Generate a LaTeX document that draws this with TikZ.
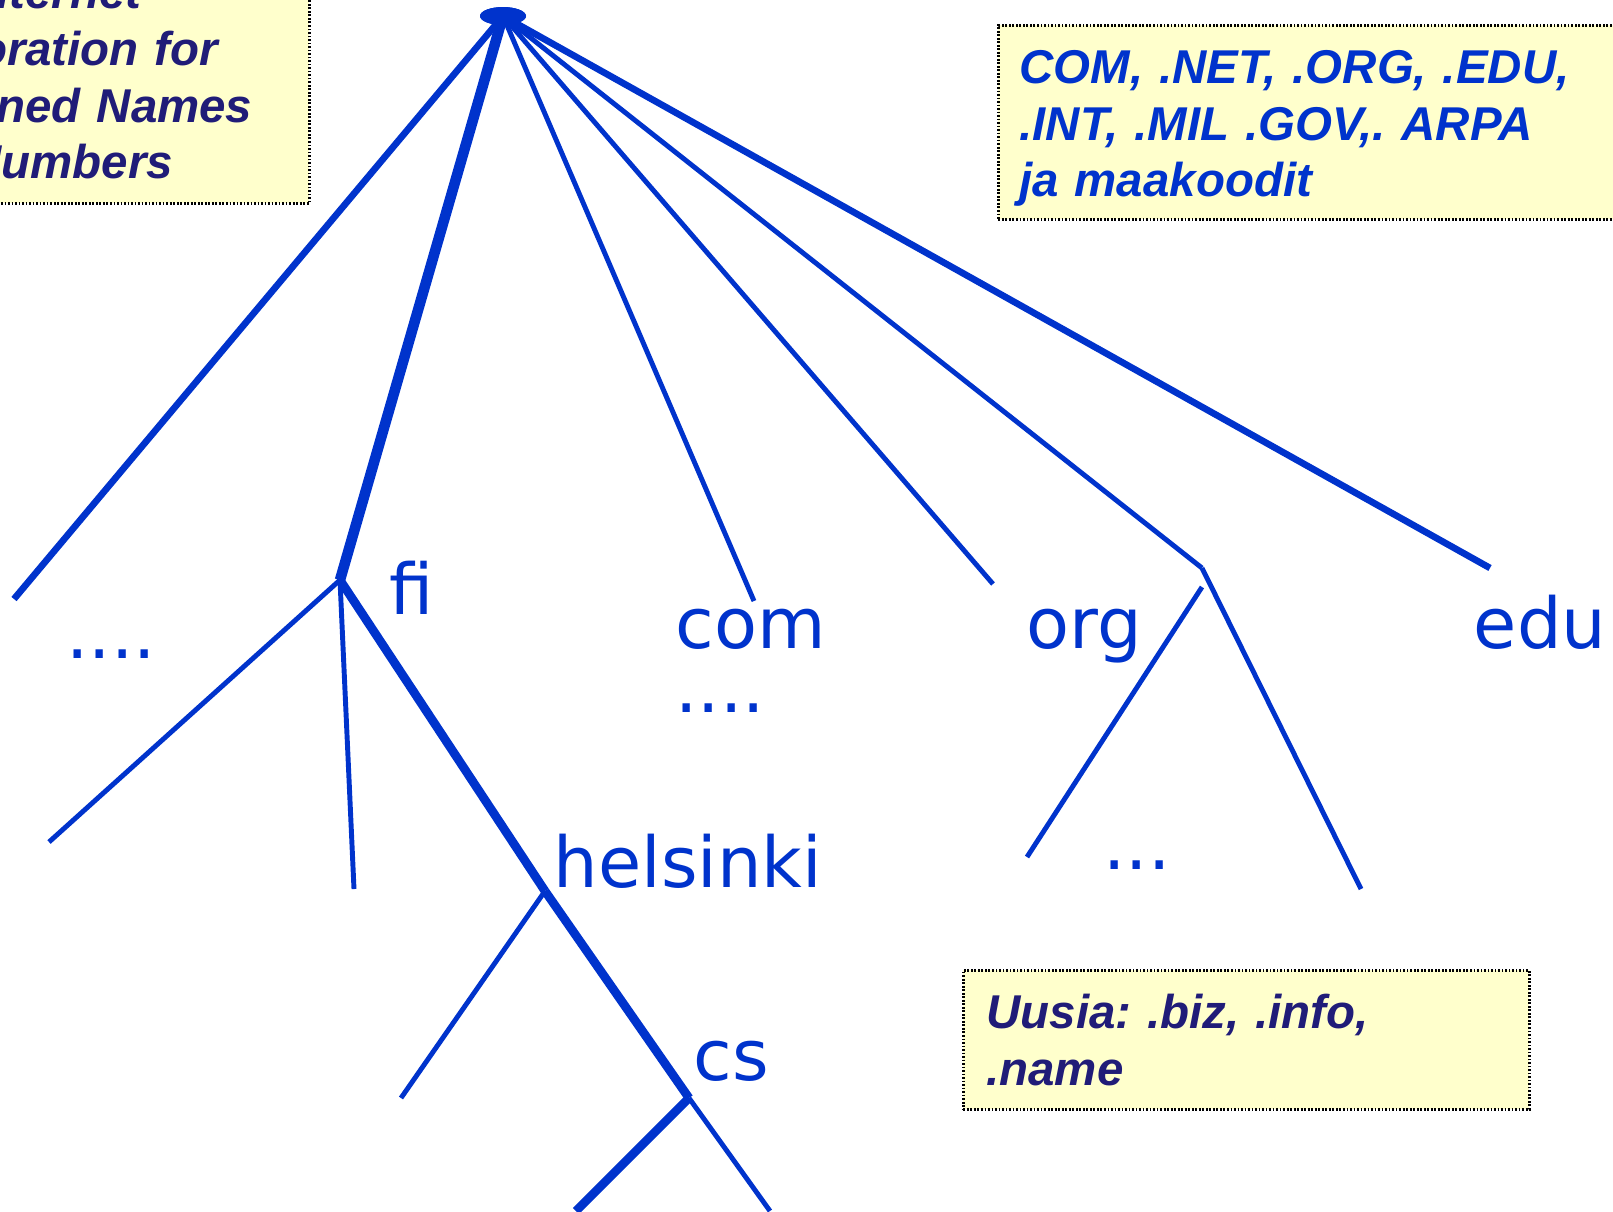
\documentclass[tikz,border=0pt]{standalone}
\usepackage{fontspec}
\newfontfamily\labelfont{DejaVu Sans}
\newfontfamily\notefont{Liberation Sans}
\usetikzlibrary{shapes.geometric}
\definecolor{treeblue}{RGB}{0,51,204}
\definecolor{notenavy}{RGB}{32,28,120}
\definecolor{noteyellow}{RGB}{255,255,204}
\frenchspacing

\begin{document}
\begin{tikzpicture}[
    edge/.style={draw=treeblue, line width=1.4pt},
    midedge/.style={draw=treeblue, line width=1.9pt},
    thickedge/.style={draw=treeblue, line width=2.5pt},
    trunkedge/.style={draw=treeblue, line width=3pt},
    dnslabel/.style={text=treeblue, font=\labelfont\fontsize{20}{24}\selectfont, inner sep=0pt, anchor=base},
    notebox/.style={draw=black, line width=0.8pt, dash pattern=on 0.5pt off 0.5pt,
        fill=noteyellow, font=\notefont\bfseries\itshape\fontsize{13.5}{16.1}\selectfont,
        align=left, inner ysep=0pt, anchor=north west}
]
    \useasboundingbox (0,0) rectangle (16.13,-12.11);
    \clip (0,0) rectangle (16.13,-12.11);

    % root and branch points
    \node[ellipse, fill=treeblue, minimum width=0.46cm, minimum height=0.18cm, inner sep=0pt] (root) at (5.03,-0.16) {};
    \coordinate (left) at (0.14,-5.99);
    \coordinate (fi) at (3.40,-5.80);
    \coordinate (com) at (7.54,-6.01);
    \coordinate (net) at (9.93,-5.84);
    \coordinate (org) at (12.02,-5.68);
    \coordinate (orgleft) at (12.02,-5.87);
    \coordinate (edu) at (14.90,-5.68);
    \coordinate (fia) at (0.49,-8.42);
    \coordinate (fib) at (3.54,-8.89);
    \coordinate (helsinki) at (5.45,-8.91);
    \coordinate (hela) at (4.01,-10.98);
    \coordinate (cs) at (6.89,-10.98);
    \coordinate (csa) at (5.76,-12.11);
    \coordinate (csb) at (7.70,-12.11);
    \coordinate (orga) at (10.27,-8.57);
    \coordinate (orgb) at (13.61,-8.89);

    % top level
    \draw[midedge] (root.center) -- (left);
    \draw[trunkedge] (root.center) -- (fi);
    \draw[edge] (root.center) -- (com);
    \draw[edge] (root.center) -- (net);
    \draw[edge] (root.center) -- (org);
    \draw[midedge] (root.center) -- (edu);
    \node[ellipse, fill=treeblue, minimum width=0.46cm, minimum height=0.18cm, inner sep=0pt] at (root) {};

    % fi subtree
    \draw[edge] (fi) -- (fia);
    \draw[edge] (fi) -- (fib);
    \draw[thickedge] (fi) -- (helsinki);
    \draw[edge] (helsinki) -- (hela);
    \draw[thickedge] (helsinki) -- (cs);
    \draw[thickedge] (cs) -- (csa);
    \draw[edge] (cs) -- (csb);

    % org subtree
    \draw[edge] (orgleft) -- (orga);
    \draw[edge] (org) -- (orgb);

    % labels
    \node[dnslabel] (dotsleft) at (1.11,-6.58) {....};
    \node[dnslabel] (filabel) at (4.12,-6.14) {fi};
    \node[dnslabel] (comlabel) at (7.51,-6.48) {com};
    \node[dnslabel] (dotscom) at (7.20,-7.12) {....};
    \node[dnslabel] (orglabel) at (10.84,-6.48) {org};
    \node[dnslabel] (edulabel) at (15.40,-6.48) {edu};
    \node[dnslabel] (hellabel) at (6.88,-8.87) {helsinki};
    \node[dnslabel] (cslabel) at (7.31,-10.80) {cs};
    \node[dnslabel] (dotsorg) at (11.37,-8.69) {...};

    % notes
    \node[notebox, text=notenavy, text width=4.21cm, inner xsep=0.21cm, minimum height=2.53cm] (icann) at (-1.55,0.51)
        {The Internet\\Corporation for\\Assigned Names\\and Numbers};
    \node[notebox, text=treeblue, text width=6.21cm, inner xsep=0.21cm, minimum height=1.94cm] (tlds) at (9.97,-0.24)
        {\rule{0pt}{0.95em}COM, .NET, .ORG, .EDU,\\.INT, .MIL .GOV,. ARPA\\ja maakoodit};
    \node[notebox, text=notenavy, text width=5.2cm, inner xsep=0.23cm, minimum height=1.39cm] (uusia) at (9.62,-9.69)
        {Uusia: .biz, .info,\\.name};
\end{tikzpicture}
\end{document}
